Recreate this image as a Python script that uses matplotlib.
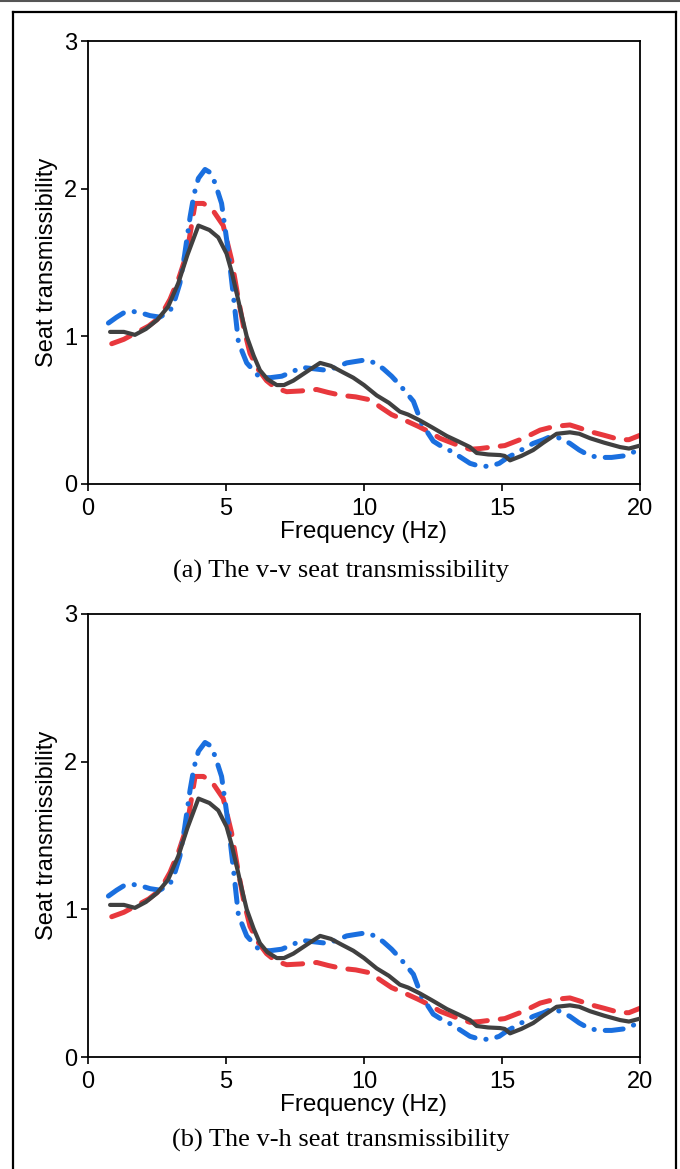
import matplotlib
matplotlib.use("Agg")
import matplotlib.pyplot as plt
from matplotlib.lines import Line2D

# ---- data ----
f_black = [0.8, 1.3, 1.7, 2.1, 2.5, 2.9, 3.27, 3.6, 4.0, 4.4, 4.72, 5.02, 5.2, 5.39, 5.57, 5.75, 6.0,
           6.23, 6.5, 6.84, 7.1, 7.44, 7.68, 8.0, 8.41, 8.8, 9.2, 9.61, 10.0, 10.46, 10.9, 11.3, 11.6,
           12.03, 12.5, 13.0, 13.4, 13.84, 14.08, 14.5, 14.93, 15.1, 15.29, 15.7, 16.13, 16.5, 16.98,
           17.46, 17.8, 18.19, 18.7, 19.28, 19.6, 20.0]
v_black = [1.03, 1.03, 1.01, 1.05, 1.11, 1.2, 1.36, 1.55, 1.75, 1.72, 1.67, 1.56, 1.44, 1.29, 1.14,
           1.0, 0.87, 0.77, 0.71, 0.67, 0.67, 0.70, 0.73, 0.77, 0.82, 0.80, 0.76, 0.72, 0.67, 0.60,
           0.55, 0.49, 0.47, 0.43, 0.38, 0.325, 0.29, 0.25, 0.21, 0.20, 0.196, 0.19, 0.16, 0.19, 0.23,
           0.28, 0.34, 0.35, 0.34, 0.31, 0.28, 0.25, 0.24, 0.26]

f_red = [0.86, 1.3, 1.7, 2.2, 2.61, 2.97, 3.3, 3.58, 3.75, 3.88, 4.18, 4.5, 4.9, 5.2, 5.45, 5.65,
         5.87, 6.15, 6.47, 6.8, 7.2, 7.7, 8.29, 8.7, 9.19, 9.7, 10.22, 10.6, 11.0, 11.5, 11.97,
         12.4, 12.75, 13.3, 13.84, 14.2, 14.63, 15.1, 15.65, 16.0, 16.38, 16.9, 17.46, 17.8,
         18.19, 18.7, 19.28, 19.6, 20.0]
v_red = [0.95, 0.98, 1.02, 1.07, 1.13, 1.25, 1.40, 1.56, 1.75, 1.90, 1.90, 1.86, 1.75, 1.52, 1.25,
         1.05, 0.885, 0.78, 0.70, 0.65, 0.625, 0.63, 0.64, 0.62, 0.60, 0.59, 0.57, 0.52, 0.47, 0.43,
         0.39, 0.35, 0.31, 0.27, 0.235, 0.24, 0.25, 0.26, 0.30, 0.33, 0.365, 0.39, 0.40, 0.38,
         0.355, 0.33, 0.30, 0.30, 0.33]

f_blue = [0.74, 1.04, 1.3, 1.58, 1.9, 2.25, 2.6, 2.97, 3.15, 3.33, 3.5, 3.7, 3.84, 4.0, 4.24, 4.42,
          4.6, 4.84, 5.08, 5.27, 5.45, 5.75, 6.23, 6.6, 7.02, 7.4, 7.74, 8.2, 8.65, 9.0, 9.37, 9.7,
          10.04, 10.4, 10.7, 11.0, 11.3, 11.79, 12.09, 12.51, 12.85, 13.18, 13.84, 14.2, 14.57,
          14.9, 15.17, 15.6, 16.13, 16.5, 16.8, 17.1, 17.46, 17.8, 18.19, 18.6, 18.97, 19.4,
          19.82, 20.0]
v_blue = [1.09, 1.13, 1.16, 1.17, 1.16, 1.14, 1.13, 1.17, 1.25, 1.36, 1.55, 1.81, 1.96, 2.07, 2.13,
          2.11, 2.04, 1.90, 1.58, 1.27, 0.96, 0.82, 0.72, 0.72, 0.73, 0.76, 0.79, 0.78, 0.77, 0.79,
          0.82, 0.83, 0.84, 0.82, 0.78, 0.73, 0.67, 0.56, 0.41, 0.29, 0.25, 0.22, 0.14, 0.12, 0.12,
          0.14, 0.175, 0.22, 0.275, 0.30, 0.325, 0.31, 0.275, 0.23, 0.19, 0.18, 0.18, 0.19,
          0.22, 0.24]

x_ticks = [0, 5, 10, 15, 20]
y_ticks = [0, 1, 2, 3]
captions = ["(a) The v-v seat transmissibility", "(b) The v-h seat transmissibility"]
xlabel = "Frequency (Hz)"
ylabel = "Seat transmissibility"

# ---- figure ----
W, H = 680, 1169
fig = plt.figure(figsize=(W / 100, H / 100), dpi=100)

def fx(px):
    return px / W

def fy(py):
    return 1 - py / H

# page line at top and framed box
fig.add_artist(Line2D([0, 1], [fy(0.5), fy(0.5)], color="#555555", lw=1.5, transform=fig.transFigure))
fig.add_artist(Line2D([fx(13), fx(13)], [fy(12), 0], color="black", lw=1.6, transform=fig.transFigure))
fig.add_artist(Line2D([fx(676), fx(676)], [fy(12), 0], color="black", lw=1.6, transform=fig.transFigure))
fig.add_artist(Line2D([fx(13), fx(676)], [fy(12), fy(12)], color="black", lw=1.6, transform=fig.transFigure))

black_c = "#404040"
red_c = "#e8383d"
blue_c = "#1a6fdf"

panels = [(41, 484, 571), (614, 1057, 1140)]
for (top, bot, cap_y), cap in zip(panels, captions):
    ax = fig.add_axes([fx(88), fy(bot), fx(640) - fx(88), (bot - top) / H])
    ax.plot(f_red, v_red, color=red_c, lw=3.6, dashes=(4.0, 2.6),
            dash_capstyle="round", zorder=2)
    ax.plot(f_blue, v_blue, color=blue_c, lw=3.6, dashes=(3.6, 2.2, 0.05, 2.2),
            dash_capstyle="round", zorder=3)
    ax.plot(f_black, v_black, color=black_c, lw=3.0, solid_capstyle="round", zorder=4)
    ax.set_xlim(0, 20)
    ax.set_ylim(0, 3)
    ax.set_xticks(x_ticks)
    ax.set_yticks(y_ticks)
    ax.tick_params(direction="out", length=5, width=1.2, labelsize=17)
    ax.tick_params(axis="x", pad=5)
    ax.tick_params(axis="y", pad=3)
    for lab in ax.get_xticklabels() + ax.get_yticklabels():
        lab.set_family("Liberation Sans")
    for s in ax.spines.values():
        s.set_linewidth(1.3)
    ax.set_xlabel(xlabel, fontsize=17.5, family="Liberation Sans", labelpad=1)
    ax.set_ylabel(ylabel, fontsize=17, family="Liberation Sans", labelpad=4)
    fig.text(fx(341), fy(cap_y), cap, ha="center", va="center", fontsize=19,
             family="Liberation Serif")

fig.savefig("out.png", dpi=100)
